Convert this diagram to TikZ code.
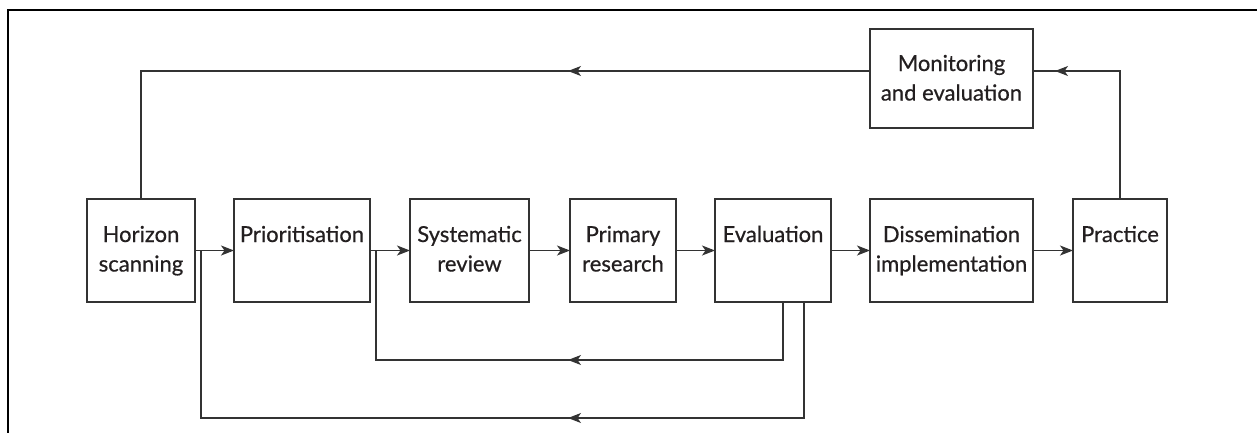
\documentclass[tikz,border=0pt]{standalone}
\usepackage{fontspec}
\setmainfont{Lato}[FakeBold=0.6]
\usetikzlibrary{arrows.meta,decorations.markings,calc}

\definecolor{ink}{HTML}{231F20}
\definecolor{rule}{HTML}{333333}

% text block inside a stage box: first baseline at a fixed depth below the top
\newcommand{\stagetext}[4]{\parbox[t][#2][t]{#1}{\centering\baselineskip=29.5pt\rule{0pt}{#3}#4}}

\tikzset{
  stage/.style={draw=rule, line width=1.3pt, inner sep=0pt, outer sep=0pt,
    text=ink, font=\fontsize{22}{29.5}\selectfont},
  flow/.style={draw=rule, line width=1.2pt, -{Stealth[length=13pt,width=10pt,inset=3.5pt]}},
  loop/.style={draw=rule, line width=1.2pt},
  tipat/.style={decoration={markings, mark=at position #1 with
      {\arrow[rule]{Stealth[length=13pt,width=10pt,inset=3.5pt]}}}, postaction={decorate}},
}

\begin{document}
\begin{tikzpicture}[x=1pt, y=-1pt]
\useasboundingbox (0,0) rectangle (1257,432);

% outer frame
\draw[black, line width=1.5pt] (8,445) -- (8,10) -- (1270,10);

% stages
\node[stage, anchor=north west] (hs) at (87,199) {\stagetext{108pt}{103pt}{43pt}{Horizon\\scanning}};
\node[stage, anchor=north west] (pr) at (234,199) {\stagetext{136pt}{103pt}{43pt}{Prioritisation}};
\node[stage, anchor=north west] (sr) at (410,199) {\stagetext{119pt}{103pt}{43pt}{Systematic\\review}};
\node[stage, anchor=north west] (pm) at (570,199) {\stagetext{106pt}{103pt}{43pt}{Primary\\research}};
\node[stage, anchor=north west] (ev) at (715,199) {\stagetext{116pt}{103pt}{43pt}{Evaluation}};
\node[stage, anchor=north west] (di) at (870,199) {\stagetext{163pt}{103pt}{43pt}{Dissemination\\implementation}};
\node[stage, anchor=north west] (pc) at (1073,199) {\stagetext{94pt}{103pt}{43pt}{Practice}};
\node[stage, anchor=north west] (me) at (870,29) {\stagetext{163pt}{99pt}{42pt}{Monitoring\\and evaluation}};

% levels of the feedback lines
\coordinate (top) at (0,71);
\coordinate (lowA) at (0,360);
\coordinate (lowB) at (0,418);

% main sequence
\draw[flow] (hs) -- (pr);
\draw[flow] (pr) -- (sr);
\draw[flow] (sr) -- (pm);
\draw[flow] (pm) -- (ev);
\draw[flow] (ev) -- (di);
\draw[flow] (di) -- (pc);

% practice feeds monitoring
\draw[loop, tipat=193pt] (pc.north) -- (pc.north |- top) -- (me.east |- top);

% monitoring feeds back to horizon scanning
\draw[loop, tipat=302pt] (me.west |- top) -- (hs.north |- top) -- (hs.north);

% evaluation feeds back to the review and prioritisation steps
\draw[loop, tipat=273pt] ([xshift=10pt]ev.south) -- ([xshift=10pt]ev.south |- lowA)
  -- ([xshift=6pt]pr.east |- lowA) -- ([xshift=6pt]pr.east);
\draw[loop, tipat=352pt] ([xshift=31pt]ev.south) -- ([xshift=31pt]ev.south |- lowB)
  -- ([xshift=6pt]hs.east |- lowB) -- ([xshift=6pt]hs.east);
\end{tikzpicture}
\end{document}
